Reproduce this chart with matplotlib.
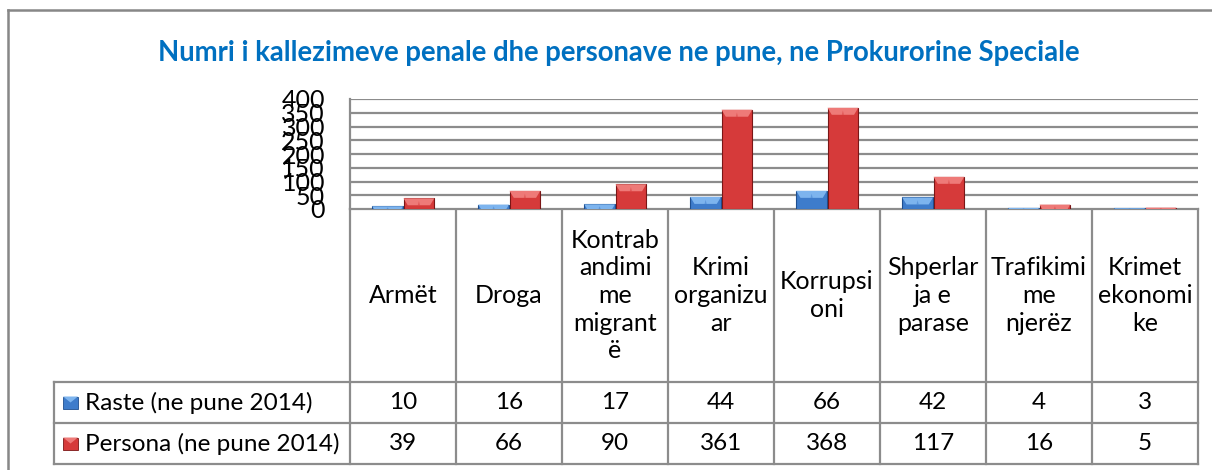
import numpy as np
import matplotlib
matplotlib.use("Agg")
import matplotlib.pyplot as plt
from matplotlib.patches import Polygon, Rectangle

plt.rcParams['font.family'] = ['Lato', 'DejaVu Sans']

title = "Numri i kallezimeve penale dhe personave ne pune, ne Prokurorine Speciale"
categories = ["Armët", "Droga", "Kontrab\nandimi\nme\nmigrant\në", "Krimi\norganizu\nar",
              "Korrupsi\noni", "Shperlar\nja e\nparase", "Trafikimi\nme\nnjerëz", "Krimet\nekonomi\nke"]
series_names = ["Raste (ne pune 2014)", "Persona (ne pune 2014)"]
raste = [10, 16, 17, 44, 66, 42, 4, 3]
persona = [39, 66, 90, 361, 368, 117, 16, 5]
yticks = [0, 50, 100, 150, 200, 250, 300, 350, 400]

W, H = 1212, 470
GRID = "#8C8C8C"
face = ["#3E7CCB", "#D63A3A"]
light = ["#7DB4EE", "#EE7A78"]
dark = ["#1F4F8F", "#7A1616"]

fig = plt.figure(figsize=(W / 100, H / 100), dpi=100)
fx = lambda p: p / W
fy = lambda p: 1 - p / H

# plot area geometry (pixels)
pl, pr, pt, pb = 350, 1198, 99, 209
ax = fig.add_axes([fx(pl), fy(pb), fx(pr) - fx(pl), fy(pt) - fy(pb)])
n = len(categories)
ax.set_xlim(-0.5, n - 0.5)
ax.set_ylim(0, 400)
ax.set_yticks(yticks)
ax.set_xticks([])
ax.tick_params(axis='y', length=0, pad=18, labelsize=18, colors="black")
ax.grid(axis='y', color=GRID, lw=1.6, zorder=0)
for s in ["top", "right", "bottom"]:
    ax.spines[s].set_visible(False)
ax.spines["left"].set_color(GRID)
ax.spines["left"].set_linewidth(1.6)
ax.set_axisbelow(True)

bw = 0.29
ypp = 400 / (pb - pt)          # data units per pixel
bev = 7 * ypp
x = np.arange(n)
for k, vals in enumerate([raste, persona]):
    xs = x - bw / 2 if k == 0 else x + bw / 2 + 0.005
    ax.bar(xs, vals, width=bw, color=face[k], edgecolor=dark[k], lw=0.8, zorder=3)
    for xc, v in zip(xs, vals):
        b = min(bev, v)
        x0, x1 = xc - bw / 2, xc + bw / 2
        ins = 0.04 * b / bev
        ax.add_patch(Polygon([(x0, v), (x1, v), (x1 - ins, v - b), (x0 + ins, v - b)],
                             closed=True, fc=light[k], ec="none", zorder=4))
        ax.add_patch(Polygon([(xc - 0.01, v - b), (xc, v - 0.4 * b), (xc + 0.01, v - b)],
                             closed=True, fc=face[k], ec="none", alpha=0.5, zorder=5))

# data table and frame drawn in pixel space
tab = fig.add_axes([0, 0, 1, 1], zorder=-1)
tab.set_xlim(0, W)
tab.set_ylim(H, 0)
tab.axis("off")

tab.plot([8, W], [10, 10], color="#878787", lw=1.8)
tab.plot([8, 8], [10, H], color="#878787", lw=1.8)

fig.text(fx(619), fy(53), title, ha="center", va="center", color="#0070C0",
         fontsize=19.8, fontweight="bold")

colw = (pr - pl) / n
tl, hb, r1, r2 = 54, 382, 423, 464
lk = dict(color=GRID, lw=1.6, solid_capstyle="projecting")
tab.plot([pl, pr], [pb, pb], **lk)
for yy in (hb, r1, r2):
    tab.plot([tl, pr], [yy, yy], **lk)
tab.plot([tl, tl], [hb, r2], **lk)
for i in range(n + 1):
    xe = pl + i * colw
    tab.plot([xe, xe], [pb, r2], **lk)

fs = 17.5
for i, c in enumerate(categories):
    cx = pl + (i + 0.5) * colw
    tab.text(cx, (pb + hb) / 2, c, ha="center", va="center", fontsize=18,
             linespacing=1.25)
    tab.text(cx, (hb + r1) / 2, str(raste[i]), ha="center", va="center", fontsize=fs)
    tab.text(cx, (r1 + r2) / 2, str(persona[i]), ha="center", va="center", fontsize=fs)

for k, (y0, y1) in enumerate([(hb, r1), (r1, r2)]):
    cy = (y0 + y1) / 2
    tab.add_patch(Rectangle((63, cy - 6), 15, 12, fc=face[k], ec=dark[k], lw=0.6))
    tab.add_patch(Polygon([(63, cy - 6), (78, cy - 6), (70.5, cy)], closed=True,
                          fc=light[k], ec="none"))
    tab.text(85, cy, series_names[k], ha="left", va="center", fontsize=fs)

fig.savefig("out.png", dpi=100)
